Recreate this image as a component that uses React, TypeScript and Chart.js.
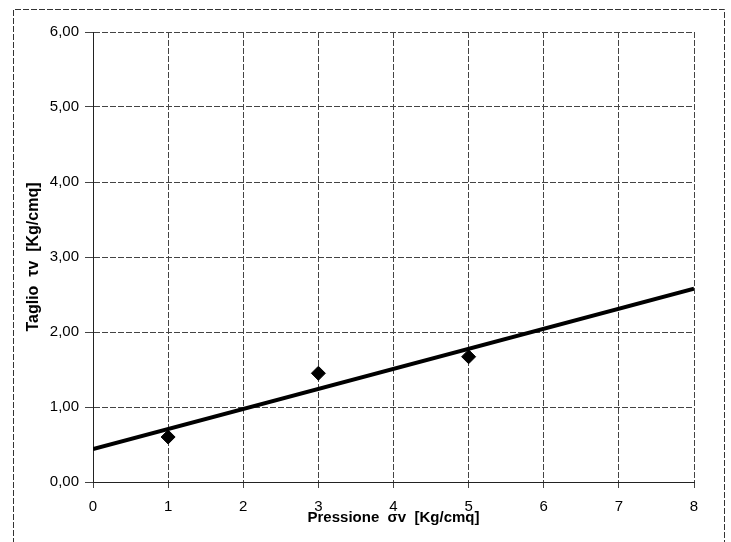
import React, { useEffect, useRef } from "react";
import { Chart, registerables } from "chart.js";

Chart.register(...registerables);

const pressure = [1, 3, 5];
const shear = [0.6, 1.45, 1.67];
const trendX = [0, 8];
const trendY = [0.4375, 2.5775];
const xTicks = [0, 1, 2, 3, 4, 5, 6, 7, 8];
const yTicks = [0, 1, 2, 3, 4, 5, 6];

const outerBorder = {
  id: "outerBorder",
  beforeDraw(chart: any) {
    const ctx = chart.ctx;
    ctx.save();
    ctx.strokeStyle = "#333";
    ctx.lineWidth = 1;
    ctx.setLineDash([6, 2]);
    ctx.beginPath();
    ctx.moveTo(13.5, 560);
    ctx.lineTo(13.5, 9.5);
    ctx.lineTo(724.5, 9.5);
    ctx.lineTo(724.5, 560);
    ctx.stroke();
    ctx.restore();
  },
};

export default function App() {
  const ref = useRef<HTMLCanvasElement>(null);
  useEffect(() => {
    document.body.style.margin = "0";
    const chart = new Chart(ref.current!, {
      type: "scatter",
      data: {
        datasets: [
          {
            type: "line",
            data: trendX.map((x, i) => ({ x, y: trendY[i] })),
            borderColor: "#000",
            borderWidth: 4,
            pointRadius: 0,
            fill: false,
          },
          {
            data: pressure.map((x, i) => ({ x, y: shear[i] })),
            backgroundColor: "#000",
            borderColor: "#000",
            pointStyle: "rectRot",
            pointRadius: 7,
          },
        ],
      },
      options: {
        animation: false,
        responsive: false,
        layout: { padding: { top: 32, right: 37, left: 0, bottom: 0 } },
        plugins: { legend: { display: false }, tooltip: { enabled: false } },
        scales: {
          x: {
            type: "linear",
            min: 0,
            max: 8,
            afterBuildTicks: (s: any) => {
              s.ticks = xTicks.map((v) => ({ value: v }));
            },
            afterFit: (s: any) => {
              s.height = 60;
            },
            ticks: {
              color: "#000",
              font: { family: "Liberation Sans", size: 15 },
              padding: 10,
              maxRotation: 0,
            },
            grid: { color: "#444", lineWidth: 1, tickLength: 6 },
            border: { color: "#222", dash: [6, 2] },
            title: {
              display: true,
              text: "Pressione  σv  [Kg/cmq]",
              color: "#000",
              font: { family: "Liberation Sans", size: 15, weight: "bold" },
              padding: { top: 0, bottom: 15 },
            },
          },
          y: {
            type: "linear",
            min: 0,
            max: 6,
            afterBuildTicks: (s: any) => {
              s.ticks = yTicks.map((v) => ({ value: v }));
            },
            afterFit: (s: any) => {
              s.width = 93;
            },
            ticks: {
              color: "#000",
              font: { family: "Liberation Sans", size: 15 },
              padding: 6,
              callback: (v: any) => Number(v).toFixed(2).replace(".", ","),
            },
            grid: { color: "#444", lineWidth: 1, tickLength: 8 },
            border: { color: "#222", dash: [6, 2] },
            title: {
              display: true,
              text: "Taglio  τv  [Kg/cmq]",
              color: "#000",
              font: { family: "Liberation Sans", size: 16, weight: "bold" },
              padding: { top: 24, bottom: 0 },
            },
          },
        },
      },
      plugins: [outerBorder],
    });
    return () => chart.destroy();
  }, []);
  return (
    <div style={{ width: 731, height: 542, background: "#fff" }}>
      <canvas ref={ref} width={731} height={542} />
    </div>
  );
}
